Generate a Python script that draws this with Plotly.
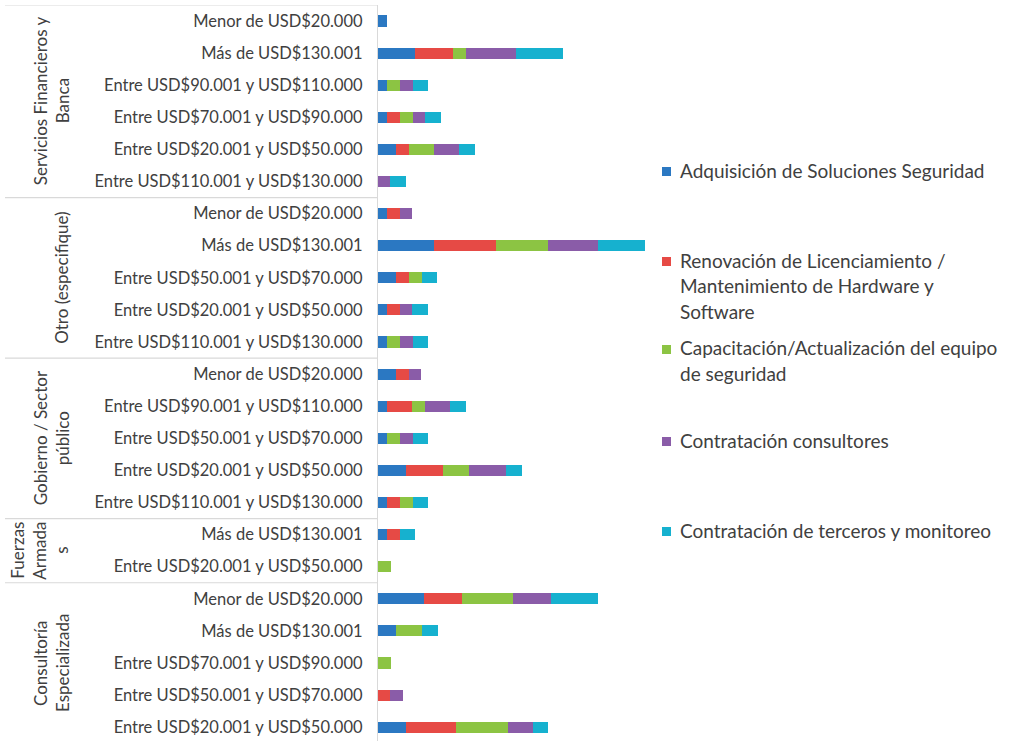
import plotly.graph_objects as go

# ---- data (percent of each series total), rows listed top to bottom ----
groups = [
    ["Servicios Financieros y", "Banca"],
    ["Otro (especifique)"],
    ["Gobierno / Sector", "público"],
    ["Fuerzas", "Armada", "s"],
    ["Consultoría", "Especializada"],
]
group_sizes = [6, 5, 5, 2, 5]

categories = [
    "Menor de USD$20.000",
    "Más de USD$130.001",
    "Entre USD$90.001 y USD$110.000",
    "Entre USD$70.001 y USD$90.000",
    "Entre USD$20.001 y USD$50.000",
    "Entre USD$110.001 y USD$130.000",
    "Menor de USD$20.000",
    "Más de USD$130.001",
    "Entre USD$50.001 y USD$70.000",
    "Entre USD$20.001 y USD$50.000",
    "Entre USD$110.001 y USD$130.000",
    "Menor de USD$20.000",
    "Entre USD$90.001 y USD$110.000",
    "Entre USD$50.001 y USD$70.000",
    "Entre USD$20.001 y USD$50.000",
    "Entre USD$110.001 y USD$130.000",
    "Más de USD$130.001",
    "Entre USD$20.001 y USD$50.000",
    "Menor de USD$20.000",
    "Más de USD$130.001",
    "Entre USD$70.001 y USD$90.000",
    "Entre USD$50.001 y USD$70.000",
    "Entre USD$20.001 y USD$50.000",
]

adquisicion = [2.6, 10.3, 2.6, 2.6, 5.1, 0, 2.6, 15.4, 5.1, 2.6, 2.6, 5.1, 2.6, 2.6, 7.7, 2.6, 2.6, 0, 12.8, 5.1, 0, 0, 7.7]
renovacion = [0, 10.3, 0, 3.4, 3.4, 0, 3.4, 17.2, 3.4, 3.4, 0, 3.4, 6.9, 0, 10.3, 3.4, 3.4, 0, 10.3, 0, 0, 3.4, 13.8]
capacitacion = [0, 3.6, 3.6, 3.6, 7.1, 0, 0, 14.3, 3.6, 0, 3.6, 0, 3.6, 3.6, 7.1, 3.6, 0, 3.6, 14.3, 7.1, 3.6, 0, 14.3]
consultores = [0, 13.8, 3.4, 3.4, 6.9, 3.4, 3.4, 13.8, 0, 3.4, 3.4, 3.4, 6.9, 3.4, 10.3, 0, 0, 0, 10.3, 0, 0, 3.4, 6.9]
terceros = [0, 13.0, 4.3, 4.3, 4.3, 4.3, 0, 13.0, 4.3, 4.3, 4.3, 0, 4.3, 4.3, 4.3, 4.3, 4.3, 0, 13.0, 4.3, 0, 0, 4.3]

series_names = [
    ["Adquisición de Soluciones Seguridad"],
    ["Renovación de Licenciamiento /", "Mantenimiento de Hardware y", "Software"],
    ["Capacitación/Actualización del equipo", "de seguridad"],
    ["Contratación consultores"],
    ["Contratación de terceros y monitoreo"],
]
series_values = [adquisicion, renovacion, capacitacion, consultores, terceros]
colors = ["#2b78c2", "#e64a45", "#8cc443", "#8a5ca8", "#16b1cf"]

# ---- layout geometry ----
W, H = 1012, 741
PL, PR = 378, 660      # plot area left/right in px
PT, PB = 5, 741        # plot area top/bottom in px
PX_PER_UNIT = 3.62
row0_px, row_step = 21, 32.1

def px_to_paper_x(px):
    return (px - PL) / (PR - PL)

def px_to_paper_y(py):
    return 1 - (py - PT) / (PB - PT)

ypos = list(range(len(categories)))
y_top = (PT - row0_px) / row_step
y_bot = (PB - row0_px) / row_step

fig = go.Figure()
for name, vals, col in zip(series_names, series_values, colors):
    fig.add_trace(go.Bar(
        y=ypos, x=vals, orientation="h", name=" ".join(name),
        marker=dict(color=col, line=dict(width=0)),
        width=0.343, showlegend=False,
    ))

TXT = "#404040"
FONT = "Lato"

shapes = []
annotations = []

# group dividers
bounds = [-0.5]
for s in group_sizes:
    bounds.append(bounds[-1] + s)
for b in bounds[:-1]:
    shapes.append(dict(type="line", xref="paper", yref="y",
                       x0=px_to_paper_x(5), x1=0, y0=b, y1=b,
                       line=dict(color="#d9d9d9", width=1.2)))

# group labels (rotated)
for gi, lines in enumerate(groups):
    yc = (bounds[gi] + bounds[gi + 1]) / 2
    n = len(lines)
    for j, line in enumerate(lines):
        xc = 62 - 22 * (n - 1 - j)
        annotations.append(dict(text=line, xref="paper", yref="y",
                                x=px_to_paper_x(xc), y=yc, textangle=-90,
                                showarrow=False, xanchor="center", yanchor="middle",
                                font=dict(family=FONT, size=17, color=TXT)))

# manual legend
legend_first_y = [170, 260, 348, 440, 530]
for name_lines, col, y0 in zip(series_names, colors, legend_first_y):
    shapes.append(dict(type="rect", xref="paper", yref="paper",
                       x0=px_to_paper_x(662), x1=px_to_paper_x(671),
                       y0=px_to_paper_y(y0 - 3), y1=px_to_paper_y(y0 + 6),
                       fillcolor=col, line=dict(width=0)))
    for j, line in enumerate(name_lines):
        annotations.append(dict(text=line, xref="paper", yref="paper",
                                x=px_to_paper_x(678), y=px_to_paper_y(y0 + 25.5 * j),
                                showarrow=False, xanchor="left", yanchor="middle",
                                font=dict(family=FONT, size=19, color=TXT)))

fig.update_layout(
    width=W, height=H,
    margin=dict(l=PL, r=W - PR, t=PT, b=H - PB, pad=0),
    barmode="stack",
    paper_bgcolor="white", plot_bgcolor="white",
    shapes=shapes, annotations=annotations,
    xaxis=dict(range=[0, (PR - PL) / PX_PER_UNIT], visible=False, showgrid=False, zeroline=False),
    yaxis=dict(range=[y_bot, y_top], tickmode="array", tickvals=ypos, ticktext=categories,
               showline=True, linecolor="#d9d9d9", linewidth=1.2, showgrid=False,
               zeroline=False, ticks="", ticklabelstandoff=11,
               tickfont=dict(family=FONT, size=16.5, color=TXT)),
    font=dict(family=FONT, color=TXT),
)

fig.write_html("out.html", config={"displayModeBar": False},
               post_script="document.body.style.margin='0';document.body.style.overflow='hidden';")
